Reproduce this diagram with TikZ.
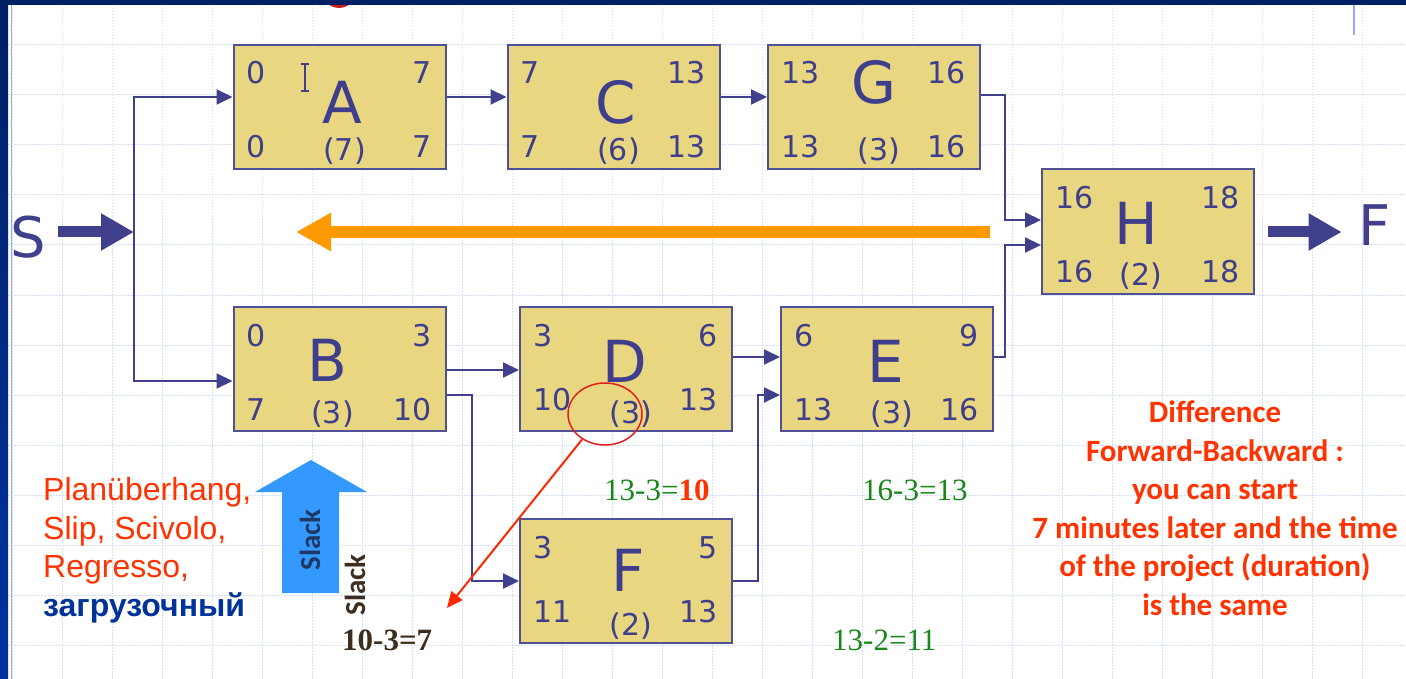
\documentclass[tikz,border=0pt]{standalone}
\usepackage{fontspec}
\setmainfont{DejaVu Sans}
\newfontfamily\arialfont{Liberation Sans}
\newfontfamily\calibrifont{Carlito}
\newfontfamily\timesfont{Liberation Serif}
\usetikzlibrary{arrows.meta, shapes.geometric}

\definecolor{boxfill}{RGB}{233,214,128}
\definecolor{boxline}{RGB}{80,80,150}
\definecolor{boxtext}{RGB}{62,62,140}
\definecolor{connblue}{RGB}{64,64,140}
\definecolor{backorange}{RGB}{255,153,0}
\definecolor{slackblue}{RGB}{51,153,255}
\definecolor{slackdark}{RGB}{31,56,100}
\definecolor{redtext}{RGB}{255,51,0}
\definecolor{cyrblue}{RGB}{0,51,153}
\definecolor{eqgreen}{RGB}{25,135,25}
\definecolor{calcbrown}{RGB}{60,45,28}
\definecolor{circred}{RGB}{230,30,30}
\definecolor{arrowred}{RGB}{255,40,0}
\definecolor{gridblue}{RGB}{212,223,248}
\definecolor{frameblue}{RGB}{0,32,100}
\definecolor{frameblue2}{RGB}{0,51,160}
\definecolor{lineblue}{RGB}{150,170,240}
\definecolor{blobred}{RGB}{200,30,30}

\tikzset{
    actbox/.style={draw=boxline, fill=boxfill, line width=2pt, minimum width=212pt, minimum height=124pt, inner sep=0pt},
    num/.style={text=boxtext, inner sep=0pt, font=\fontsize{30}{36}\selectfont},
    letter/.style={text=boxtext, inner sep=0pt, font=\fontsize{58}{60}\selectfont},
    endfont/.style={text=connblue, inner sep=0pt, font=\fontsize{56}{60}\selectfont},
    conn/.style={draw=connblue, line width=2pt, -{Triangle[length=16pt,width=15pt]}},
    bigarrow/.style={draw=connblue, line width=11pt, -{Triangle[length=33pt,width=35pt]}},
    backarrow/.style={draw=backorange, line width=12pt, -{Triangle[length=35pt,width=36pt]}},
    redarrow/.style={draw=arrowred, line width=2pt, -{Triangle[length=16pt,width=14pt]}},
    eqn/.style={text=eqgreen, inner sep=0pt, font=\timesfont\fontsize{31}{33}\selectfont},
    gridline/.style={draw=gridblue, line width=1pt, dash pattern=on 1.5pt off 1.5pt},
    lowrow/.style={},
    durshift/.style={}
}

% name, centre, letter, letter options, ES, EF, LS, LF, duration
\newcommand{\activity}[9]{%
    \node[actbox] (#1) at #2 {};
    \node[num, anchor=base west, xshift=14pt, yshift=-40pt] (#1es) at (#1.north west) {#5};
    \node[num, anchor=base east, xshift=-15pt, yshift=-40pt] (#1ef) at (#1.north east) {#6};
    \node[num, anchor=base west, xshift=14pt, yshift=12pt, lowrow] (#1ls) at (#1.south west) {#7};
    \node[num, anchor=base east, xshift=-15pt, yshift=12pt, lowrow] (#1lf) at (#1.south east) {#8};
    \node[num, anchor=base, xshift=5pt, yshift=9pt, durshift] (#1dur) at (#1.south) {(#9)};
    \node[letter, anchor=base, yshift=-76pt, #4] (#1name) at (#1.north) {#3};
}

\begin{document}
\begin{tikzpicture}[x=1pt, y=-1pt]
\useasboundingbox (0,0) rectangle (1406,679);
\fill[white] (0,0) rectangle (1406,679);
% grid paper
\foreach \x in {12,62,...,1362}
    \draw[gridline] (\x,5) -- (\x,679);
\foreach \y in {45,95,...,645}
    \draw[gridline] (8,\y) -- (1406,\y);
% slide frame
\fill[blobred] (339,0) ellipse [x radius=12, y radius=8];
\fill[frameblue] (0,0) rectangle (1406,5);
\shade[top color=frameblue, bottom color=frameblue2] (0,0) rectangle (8,679);
\draw[lineblue, line width=1.5pt] (11.5,5) -- (11.5,679);
\draw[lineblue, line width=2pt] (1354,5) -- (1354,35);

% activities
\activity{A}{(339.5,107)}{A}{xshift=3pt, yshift=-4pt}{0}{7}{0}{7}{7}
\activity{C}{(613.5,107)}{C}{xshift=2pt, yshift=-4pt}{7}{13}{7}{13}{6}
\activity{G}{(874,107)}{G}{yshift=16pt}{13}{16}{13}{16}{3}
\activity{E}{(887,369)}{E}{xshift=-1pt}{6}{9}{13}{16}{3}
\begin{scope}[durshift/.style={xshift=-12pt}]
\activity{H}{(1148,231.5)}{H}{xshift=-12pt}{16}{18}{16}{18}{2}
\activity{B}{(339.5,369)}{B}{xshift=-12pt, yshift=1pt}{0}{3}{7}{10}{3}
\end{scope}
\begin{scope}[lowrow/.style={yshift=10pt}]
\activity{D}{(626,369)}{D}{xshift=-1pt}{3}{6}{10}{13}{3}
\activity{F}{(626,581)}{F}{xshift=2pt, yshift=3pt}{3}{5}{11}{13}{2}
\end{scope}

% text cursor
\draw[connblue, line width=1.2pt] (305,64) -- (305,91) (301,64) -- (309,64) (301,91) -- (309,91);

% start and finish
\node[endfont] (start) at (28,237) {S};
\node[endfont] (fin) at (1375,225) {F};
\coordinate (split) at (134,232);
\draw[bigarrow] ([xshift=12pt]start.east |- split) -- (split);
\draw[bigarrow] ([xshift=13pt]H.east |- split) -- ([xshift=-17pt]fin.west |- split);

% connectors
\draw[conn] (split) |- ([yshift=10pt]A.west);
\draw[conn] (split) |- ([yshift=-12pt]B.west);
\draw[conn] ([yshift=10pt]A.east) -- ([yshift=10pt]C.west);
\draw[conn] ([yshift=10pt]C.east) -- ([yshift=10pt]G.west);
\draw[conn] ([yshift=12pt]G.east) -- ++(24,0) |- ([yshift=11.5pt]H.west);
\draw[conn] ([yshift=12pt]E.east) -- ++(11,0) |- ([yshift=-13.5pt]H.west);
\draw[conn] ([yshift=-1pt]B.east) -- ([yshift=-1pt]D.west);
\draw[conn] ([yshift=-26pt]B.east) -- ++(25,0) |- (F.west);
\draw[conn] ([yshift=12pt]D.east) -- ([yshift=12pt]E.west);
\draw[conn] (F.east) -- ++(25,0) |- ([yshift=-26pt]E.west);

% backward pass
\coordinate (back0) at (990,232);
\coordinate (back1) at (296,232);
\draw[backarrow] (back0) -- (back1);

% slack of D
\node[ellipse, draw=circred, line width=1.5pt, minimum width=74pt, minimum height=62pt, inner sep=0pt] (circ) at (605,414) {};
\coordinate (slackpt) at (447,608);
\draw[redarrow] (circ.228) -- (slackpt);

\fill[slackblue] (282,593) -- (282,492) -- (255,492) -- (311,460) -- (367,492) -- (339,492) -- (339,593) -- cycle;
\node[text=slackdark, rotate=90, font=\calibrifont\bfseries\fontsize{29}{30}\selectfont] (slack1) at (310,540) {Slack};
\node[text=calcbrown, rotate=90, font=\calibrifont\bfseries\fontsize{29}{30}\selectfont] (slack2) at (355,585) {Slack};
\node[text=calcbrown, anchor=base west, inner sep=0pt, font=\timesfont\bfseries\fontsize{31}{33}\selectfont] (slackcalc) at (342,650) {10-3=7};

\node[text=redtext, align=left, anchor=base west, inner sep=0pt, font=\arialfont\fontsize{32}{38.5}\selectfont] (terms) at (43,616)
    {Planüberhang,\\Slip, Scivolo,\\Regresso,\\{\color{cyrblue}\bfseries загрузочный}};

\node[eqn, anchor=base west] (eqD) at (604,500) {13-3=\textcolor{redtext}{\bfseries 10}};
\node[eqn, anchor=base west] (eqE) at (862,500) {16-3=13};
\node[eqn, anchor=base west] (eqF) at (832,650) {13-2=11};

\node[text=redtext, align=center, anchor=north, inner sep=0pt, font=\calibrifont\bfseries\fontsize{31}{38.5}\selectfont] (note) at (1215,401)
    {Difference\\Forward-Backward :\\you can start\\7 minutes later and the time\\of the project (duration)\\is the same};
\end{tikzpicture}
\end{document}
